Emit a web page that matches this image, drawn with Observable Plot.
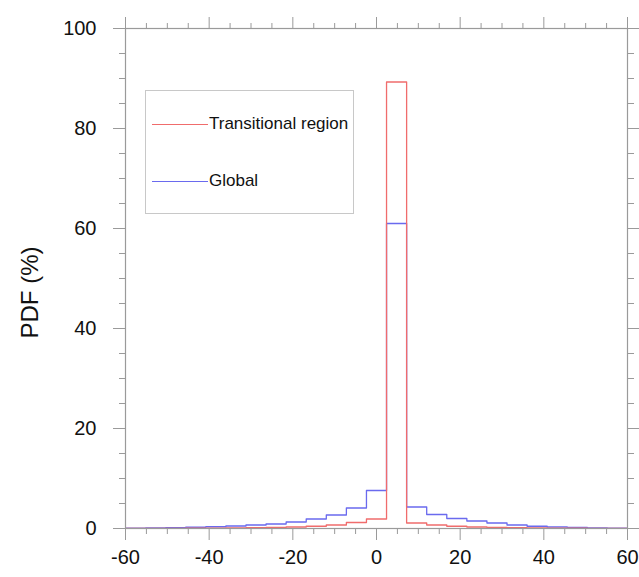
<!DOCTYPE html>
<html>
<head>
<meta charset="utf-8">
<script src="https://cdn.jsdelivr.net/npm/d3@7"></script>
<script src="https://cdn.jsdelivr.net/npm/@observablehq/plot@0.6"></script>
<style>
  html, body { margin: 0; padding: 0; background: #fff; }
  #fig { position: relative; width: 639px; height: 577px; font-family: "Liberation Sans", Arial, Helvetica, sans-serif; }
  #legend { position: absolute; left: 145px; top: 90px; width: 209px; height: 124px; border: 1px solid #c8c8c8; box-sizing: border-box; background: #fff; }
  .item { position: absolute; left: 6px; display: flex; align-items: center; font-size: 17px; color: #111; }
  .item .sw { width: 56px; height: 0; border-top: 1.3px solid; margin-right: 1px; }
</style>
</head>
<body>
<div id="fig"></div>
<script>
// ---- data ----
const binEdges = [-60, -55.2, -50.4, -45.6, -40.8, -36, -31.2, -26.4, -21.6, -16.8, -12, -7.2, -2.4,
                  2.4, 7.2, 12, 16.8, 21.6, 26.4, 31.2, 36, 40.8, 45.6, 50.4, 55.2, 60];
const transitional = [0.02, 0.03, 0.04, 0.05, 0.07, 0.1, 0.15, 0.2, 0.3, 0.45, 0.7, 1.2, 1.9,
                      89.3, 1.1, 0.7, 0.45, 0.3, 0.2, 0.15, 0.1, 0.07, 0.05, 0.03, 0.02];
const globalPdf = [0.05, 0.1, 0.15, 0.25, 0.35, 0.5, 0.7, 0.9, 1.3, 1.9, 2.7, 4.1, 7.6,
                   61, 4.3, 2.8, 2.0, 1.5, 1.1, 0.7, 0.45, 0.3, 0.2, 0.12, 0.08];
const seriesNames = ["Transitional region", "Global"];
const seriesColors = ["#f06c6c", "#6a6aee"];
const xTicks = [-60, -40, -20, 0, 20, 40, 60];
const yTicks = [0, 20, 40, 60, 80, 100];
const yLabel = "PDF (%)";

function steps(vals, name) {
  return binEdges.map((e, i) => ({x: e, y: vals[Math.min(i, vals.length - 1)], s: name}));
}
const rows = [...steps(globalPdf, seriesNames[1]), ...steps(transitional, seriesNames[0])];

const xMinor = d3.range(-60, 60.1, 5).filter(v => !xTicks.includes(v));
const yMinor = d3.range(0, 100.1, 5).filter(v => !yTicks.includes(v));
const axisGrey = "#9a9a9a";
const fs = 20;

const chart = Plot.plot({
  width: 639,
  height: 577,
  marginLeft: 125,
  marginRight: 12,
  marginTop: 28,
  marginBottom: 49,
  style: {fontFamily: '"Liberation Sans", Arial, Helvetica, sans-serif', background: "#fff", color: "#111"},
  x: {domain: [-60, 60]},
  y: {domain: [0, 100]},
  color: {domain: seriesNames, range: seriesColors},
  marks: [
    Plot.line(rows, {x: "x", y: "y", z: "s", stroke: "s", curve: "step-after", strokeWidth: 1.3}),
    Plot.frame({stroke: axisGrey, strokeWidth: 1.2}),
    // bottom
    Plot.axisX({anchor: "bottom", ticks: xTicks, tickSize: 12, tickPadding: 9, fontSize: fs, stroke: axisGrey, fill: "#111", label: null, tickFormat: d => String(d).replace("−", "-")}),
    Plot.axisX({anchor: "bottom", ticks: xMinor, tickSize: 6, text: null, stroke: axisGrey, label: null}),
    // top
    Plot.axisX({anchor: "top", ticks: xTicks, tickSize: 12, text: null, stroke: axisGrey, label: null}),
    Plot.axisX({anchor: "top", ticks: xMinor, tickSize: 6, text: null, stroke: axisGrey, label: null}),
    // left
    Plot.axisY({anchor: "left", ticks: yTicks, tickSize: 12, tickPadding: 17, fontSize: fs, stroke: axisGrey, fill: "#111", label: null}),
    Plot.axisY({anchor: "left", ticks: yMinor, tickSize: 6, text: null, stroke: axisGrey, label: null}),
    // right
    Plot.axisY({anchor: "right", ticks: yTicks, tickSize: 12, text: null, stroke: axisGrey, label: null}),
    Plot.axisY({anchor: "right", ticks: yMinor, tickSize: 6, text: null, stroke: axisGrey, label: null}),
    Plot.text([yLabel], {frameAnchor: "left", textAnchor: "middle", lineAnchor: "middle", rotate: -90, dx: -95, dy: 14, fontSize: 24, fill: "#111"})
  ]
});

const fig = document.getElementById("fig");
fig.appendChild(chart);

const legend = document.createElement("div");
legend.id = "legend";
const itemTops = [35, 92];
seriesNames.forEach((name, i) => {
  const it = document.createElement("div");
  it.className = "item";
  it.style.top = (itemTops[i] - 12) + "px";
  const sw = document.createElement("span");
  sw.className = "sw";
  sw.style.borderTopColor = seriesColors[i];
  const t = document.createElement("span");
  t.textContent = name;
  it.appendChild(sw);
  it.appendChild(t);
  legend.appendChild(it);
});
fig.appendChild(legend);
</script>
</body>
</html>
